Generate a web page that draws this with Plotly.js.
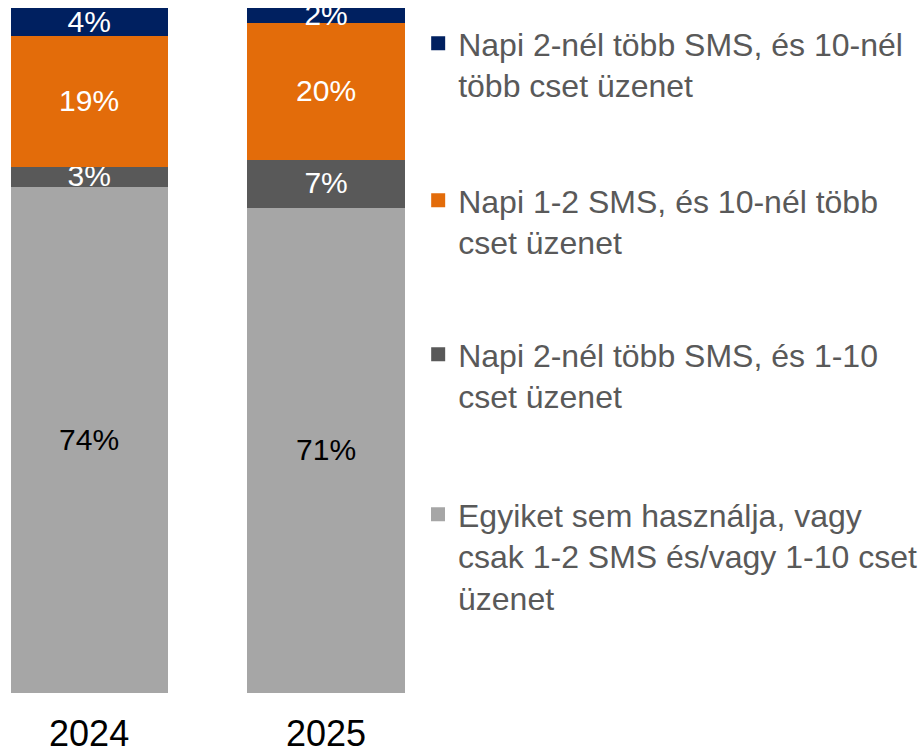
<!DOCTYPE html>
<html>
<head>
<meta charset="utf-8">
<script src="https://cdn.plot.ly/plotly-3.0.1.min.js"></script>
<style>html,body{margin:0;padding:0;background:#fff;}#chart{width:922px;height:755px;}</style>
</head>
<body>
<div id="chart"></div>
<script>
const years = ['2024', '2025'];
const seriesNames = [
  'Egyiket sem használja, vagy<br>csak 1-2 SMS és/vagy 1-10 cset<br>üzenet',
  'Napi 2-nél több SMS, és 1-10<br>cset üzenet',
  'Napi 1-2 SMS, és 10-nél több<br>cset üzenet',
  'Napi 2-nél több SMS, és 10-nél<br>több cset üzenet'
];
const valsNone = [74, 71];
const valsHighSmsLowChat = [3, 7];
const valsLowSmsHighChat = [19, 20];
const valsHighBoth = [4, 2];

const colors = ['#A6A6A6', '#595959', '#E36C0A', '#002060'];
const textColors = ['#000000', '#ffffff', '#ffffff', '#ffffff'];
const allVals = [valsNone, valsHighSmsLowChat, valsLowSmsHighChat, valsHighBoth];
const legendIds = ['legend4', 'legend3', 'legend2', 'legend'];

const traces = allVals.map((v, i) => ({
  type: 'bar',
  x: years,
  y: v,
  name: seriesNames[i],
  marker: {color: colors[i], line: {width: 2, color: colors[i]}},
  text: v.map(d => d + '%'),
  textposition: 'inside',
  insidetextanchor: 'middle',
  textangle: 0,
  textfont: {family: 'Liberation Sans, Arial, sans-serif', size: 30, color: textColors[i]},
  hoverinfo: 'skip',
  legend: legendIds[i]
}));

const W = 922, H = 755;
function legendAt(px, py) {
  return {
    x: px / W, y: 1 - py / H, xanchor: 'left', yanchor: 'top',
    bgcolor: 'rgba(0,0,0,0)', borderwidth: 0, valign: 'top',
    font: {family: 'Liberation Sans, Arial, sans-serif', size: 32, color: '#595959'}
  };
}

const layout = {
  width: W, height: H,
  margin: {l: 0, r: 0, t: 0, b: 0},
  paper_bgcolor: '#ffffff',
  plot_bgcolor: '#ffffff',
  barmode: 'stack',
  bargap: 0.345,
  showlegend: true,
  uniformtext: {mode: 'show', minsize: 30},
  xaxis: {
    domain: [0, 420 / W],
    range: [-0.3761, 1.3887],
    type: 'category',
    showgrid: false, zeroline: false, showline: false, ticks: '',
    tickfont: {family: 'Liberation Sans, Arial, sans-serif', size: 36, color: '#000000'},
    ticklabelstandoff: 16,
    automargin: false,
    fixedrange: true
  },
  yaxis: {
    domain: [1 - 693 / H, 1 - 8 / H],
    range: [0, 100],
    visible: false,
    fixedrange: true
  },
  legend: legendAt(420, 16),
  legend2: legendAt(420, 173),
  legend3: legendAt(420, 327),
  legend4: legendAt(420, 487)
};

Plotly.newPlot('chart', traces, layout, {displayModeBar: false, staticPlot: true});
</script>
</body>
</html>
